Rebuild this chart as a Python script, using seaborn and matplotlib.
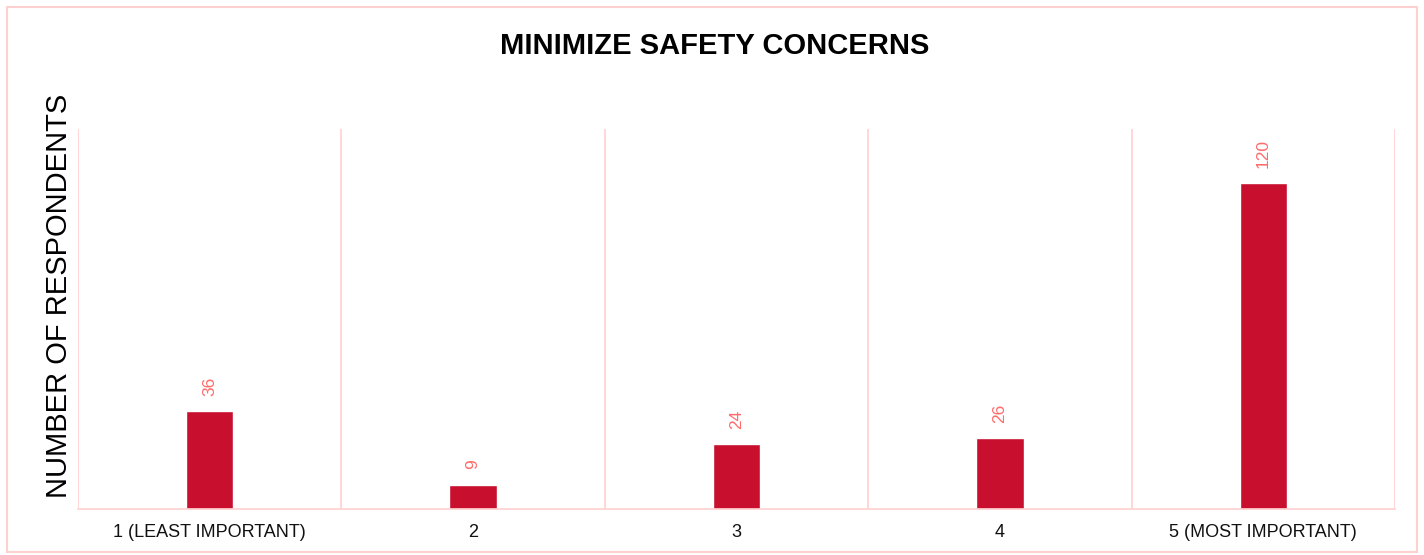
import matplotlib
matplotlib.use("Agg")
import matplotlib.pyplot as plt
import seaborn as sns
import pandas as pd
from matplotlib.patches import Rectangle

# datos
categorias = ["1 (LEAST IMPORTANT)", "2", "3", "4", "5 (MOST IMPORTANT)"]
respuestas = [36, 9, 24, 26, 120]

df = pd.DataFrame({"categoria": categorias, "respuestas": respuestas})

sns.set_style("white")
plt.rcParams["font.family"] = ["Liberation Sans", "DejaVu Sans"]

rosa = "#FFD0D0"
rojo = "#C8102E"

fig = plt.figure(figsize=(14.24, 5.55), dpi=100)
ax = fig.add_axes([78 / 1424, 1 - 509 / 555, (1395 - 78) / 1424, (509 - 129) / 555])

sns.barplot(data=df, x="categoria", y="respuestas", color=rojo, width=0.18,
            saturation=1, ax=ax)

ax.set_ylim(0, 140)
ax.set_xlim(-0.5, len(categorias) - 0.5)
ax.set_yticks([])
ax.set_xlabel("")
ax.set_ylabel("NUMBER OF RESPONDENTS", fontsize=21, color="black", va="center")
ax.yaxis.set_label_coords(-0.0145, 0.56)
ax.tick_params(axis="x", length=0, pad=11, labelsize=13)
for lab in ax.get_xticklabels():
    lab.set_color("#111111")

# lineas verticales entre categorias
ax.set_xticks([i - 0.5 for i in range(len(categorias) + 1)], minor=True)
ax.grid(which="minor", axis="x", color=rosa, linewidth=1.2)
ax.tick_params(which="minor", length=0)
for s in ["top", "left", "right"]:
    ax.spines[s].set_visible(False)
ax.spines["bottom"].set_color(rosa)
ax.spines["bottom"].set_linewidth(1.2)

ax.bar_label(ax.containers[0], padding=11, rotation=90, color="#FF6B6B", fontsize=12.5)

fig.text(0.502, 1 - 46 / 555, "MINIMIZE SAFETY CONCERNS", ha="center", va="center",
         fontsize=21, fontweight="bold", color="black")

fig.patches.append(Rectangle((7 / 1424, 3 / 555), 1410 / 1424, 545 / 555,
                             transform=fig.transFigure, fill=False,
                             edgecolor=rosa, linewidth=1.5))

fig.savefig("out.png", dpi=100)
